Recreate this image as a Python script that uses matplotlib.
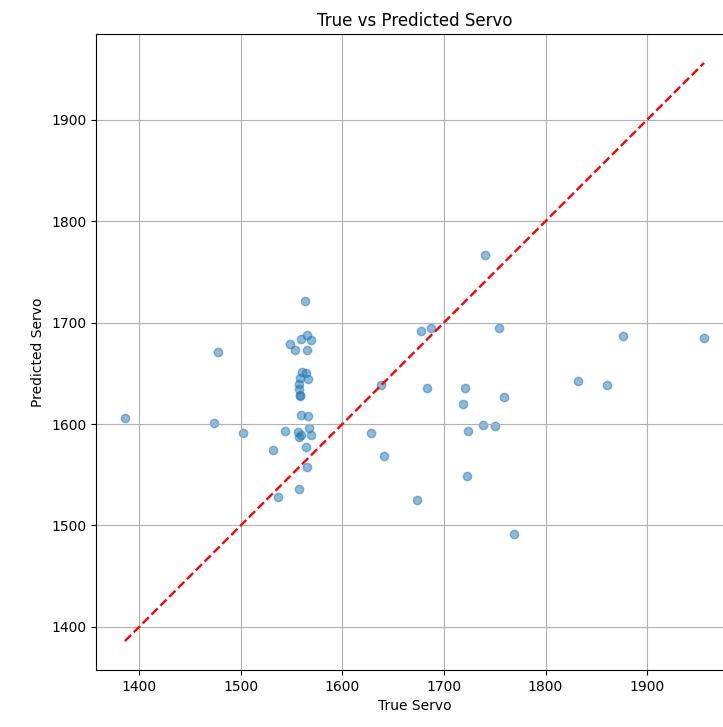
import numpy as np
import matplotlib
matplotlib.use("Agg")
import matplotlib.pyplot as plt

# true vs predicted servo values
true_servo = [
    1386, 1478, 1474, 1502, 1532, 1537, 1557, 1563,
    1548, 1553, 1559, 1565, 1569, 1565,
    1560, 1564, 1566, 1558, 1557, 1557, 1558, 1558,
    1559, 1566, 1544, 1556, 1559, 1567, 1569, 1557, 1564, 1565,
    1740, 1677, 1687, 1754, 1638, 1683, 1721, 1719, 1759,
    1628, 1641, 1724, 1738, 1750, 1723, 1673, 1769,
    1860, 1832, 1876, 1956,
]
pred_servo = [
    1606, 1671, 1601, 1591, 1574, 1528, 1536, 1721,
    1679, 1673, 1684, 1688, 1683, 1673,
    1651, 1650, 1644, 1645, 1639, 1635, 1629, 1628,
    1609, 1608, 1593, 1592, 1589, 1596, 1589, 1587, 1577, 1558,
    1767, 1692, 1695, 1695, 1638, 1636, 1636, 1620, 1627,
    1591, 1568, 1593, 1599, 1598, 1549, 1525, 1492,
    1638, 1642, 1687, 1685,
]

true_arr = np.array(true_servo)
pred_arr = np.array(pred_servo)

fig = plt.figure(figsize=(7.23, 7.27), dpi=100)
ax = fig.add_axes([96 / 723, 57 / 727, 637 / 723, 636 / 727])

ax.scatter(true_arr, pred_arr, alpha=0.5)
lo, hi = true_arr.min(), true_arr.max()
ax.plot([lo, hi], [lo, hi], 'r--', lw=1.7)

ax.set_title('True vs Predicted Servo')
ax.set_xlabel('True Servo')
ax.set_ylabel('Predicted Servo')
ax.grid(True)

fig.savefig('out.png', dpi=100)
